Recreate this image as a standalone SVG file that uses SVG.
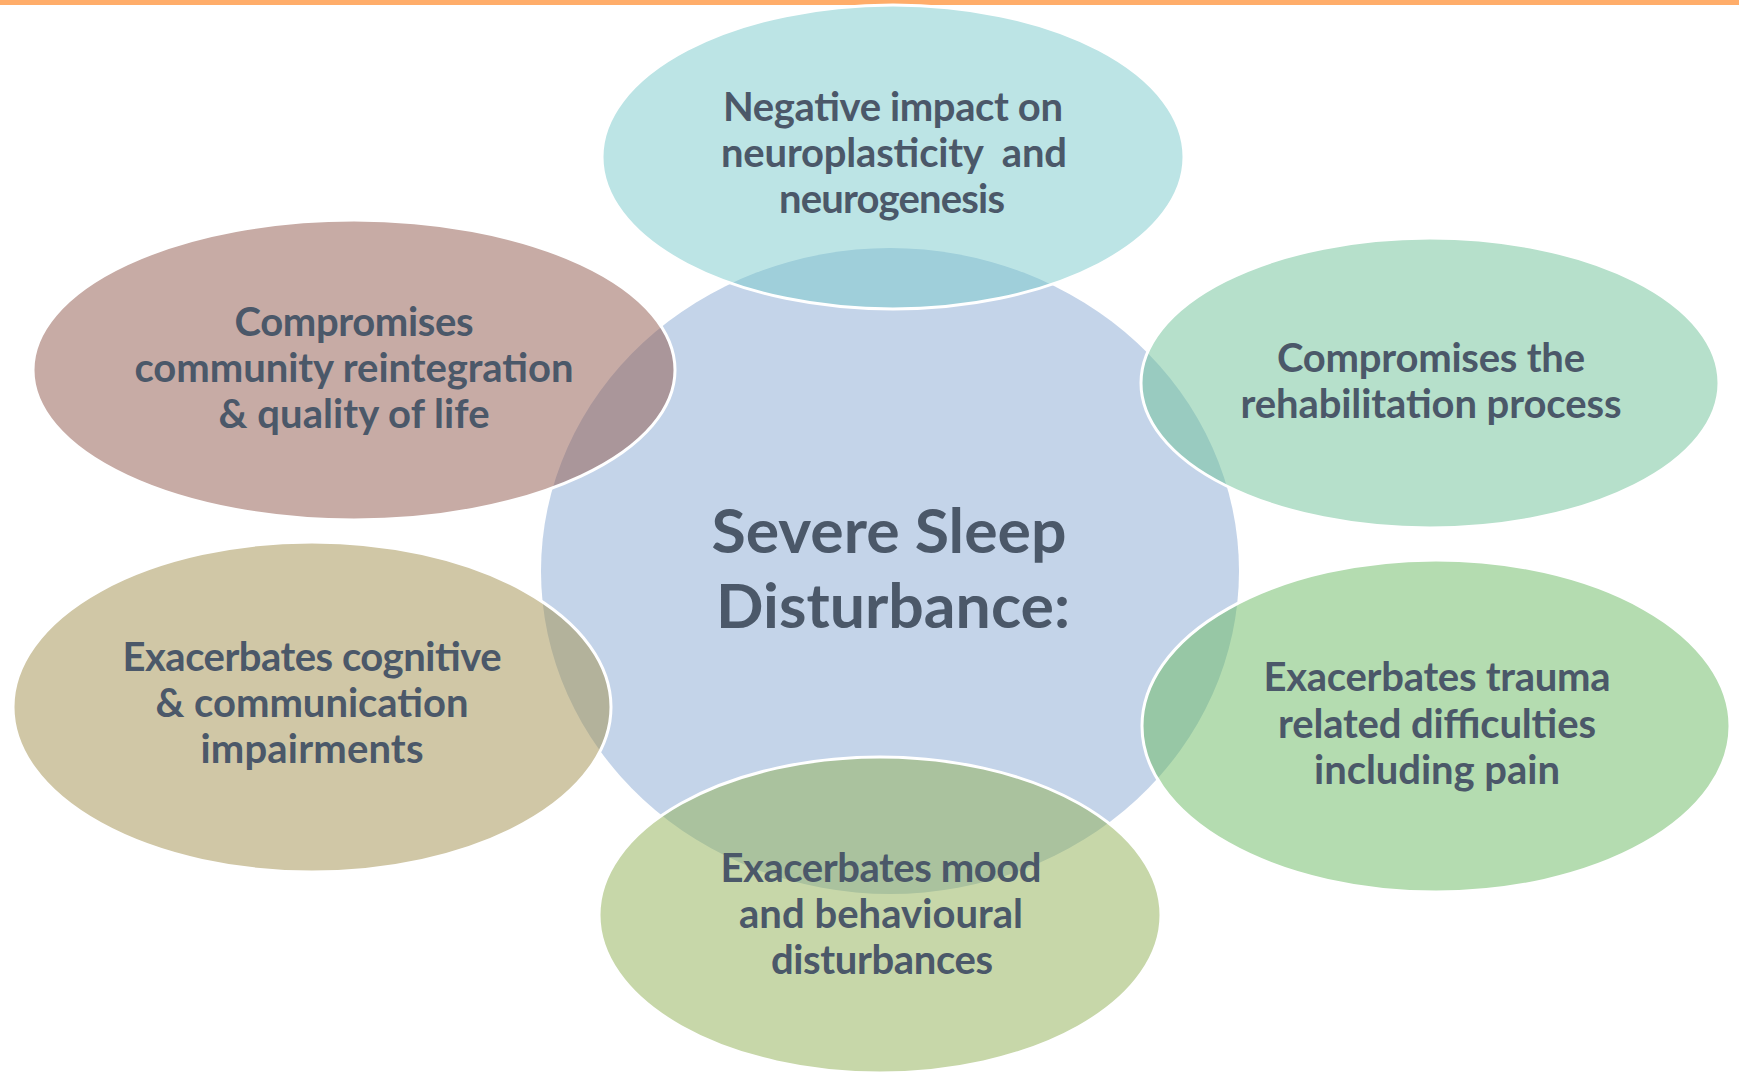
<svg xmlns="http://www.w3.org/2000/svg" width="1739" height="1074" viewBox="0 0 1739 1074">
  <style>
    .hub { fill: #C4D4E9; }
    .petal { fill-opacity: 0.5; stroke: #FFFFFF; stroke-width: 3; }
    text { font-family: "Lato", "Liberation Sans", sans-serif; font-weight: 700; fill: #4B5869; text-anchor: middle; }
    .lbl { font-size: 40px; }
    .title { font-size: 61px; }
  </style>
  <rect x="0" y="0" width="1739" height="5" fill="#FFAD6A"/>

  <!-- central hub -->
  <g id="hub">
    <ellipse class="hub" cx="890" cy="571" rx="349" ry="323"/>
  </g>

  <!-- surrounding effects -->
  <g id="neuroplasticity">
    <ellipse class="petal" cx="893" cy="157" rx="291" ry="152" fill="#79C9CB"/>
    <text class="lbl" x="893" y="121" textLength="340">Negative impact on</text>
    <text class="lbl" x="894" y="167" textLength="346" xml:space="preserve">neuroplasticity  and</text>
    <text class="lbl" x="892" y="213" textLength="226">neurogenesis</text>
  </g>

  <g id="rehabilitation">
    <ellipse class="petal" cx="1430" cy="383" rx="289" ry="145" fill="#6DC197"/>
    <text class="lbl" x="1431" y="372" textLength="308">Compromises the</text>
    <text class="lbl" x="1431" y="418" textLength="381">rehabilitation process</text>
  </g>

  <g id="trauma">
    <ellipse class="petal" cx="1436" cy="726" rx="294" ry="166" fill="#69B961"/>
    <text class="lbl" x="1437" y="691" textLength="347">Exacerbates trauma</text>
    <text class="lbl" x="1437" y="738" textLength="318">related difficulties</text>
    <text class="lbl" x="1437" y="784" textLength="246">including pain</text>
  </g>

  <g id="mood">
    <ellipse class="petal" cx="880" cy="915" rx="281" ry="158" fill="#8FAF53"/>
    <text class="lbl" x="881" y="882" textLength="321">Exacerbates mood</text>
    <text class="lbl" x="881" y="928" textLength="284">and behavioural</text>
    <text class="lbl" x="882" y="974" textLength="222">disturbances</text>
  </g>

  <g id="cognitive">
    <ellipse class="petal" cx="312" cy="707" rx="299" ry="165" fill="#A18F4D"/>
    <text class="lbl" x="312" y="671" textLength="379">Exacerbates cognitive</text>
    <text class="lbl" x="312" y="717" textLength="313">&amp; communication</text>
    <text class="lbl" x="312" y="763" textLength="223">impairments</text>
  </g>

  <g id="community">
    <ellipse class="petal" cx="354" cy="370" rx="321" ry="150" fill="#8F574B"/>
    <text class="lbl" x="354" y="336" textLength="239">Compromises</text>
    <text class="lbl" x="354" y="382" textLength="439">community reintegration</text>
    <text class="lbl" x="354" y="428" textLength="271">&amp; quality of life</text>
  </g>

  <!-- hub title sits above the overlapping petals -->
  <g id="hub-title">
    <text class="title" x="889" y="553" textLength="355" lengthAdjust="spacingAndGlyphs">Severe Sleep</text>
    <text class="title" x="893" y="628" textLength="354" lengthAdjust="spacingAndGlyphs">Disturbance:</text>
  </g>

  <g id="connectors"/>
</svg>
